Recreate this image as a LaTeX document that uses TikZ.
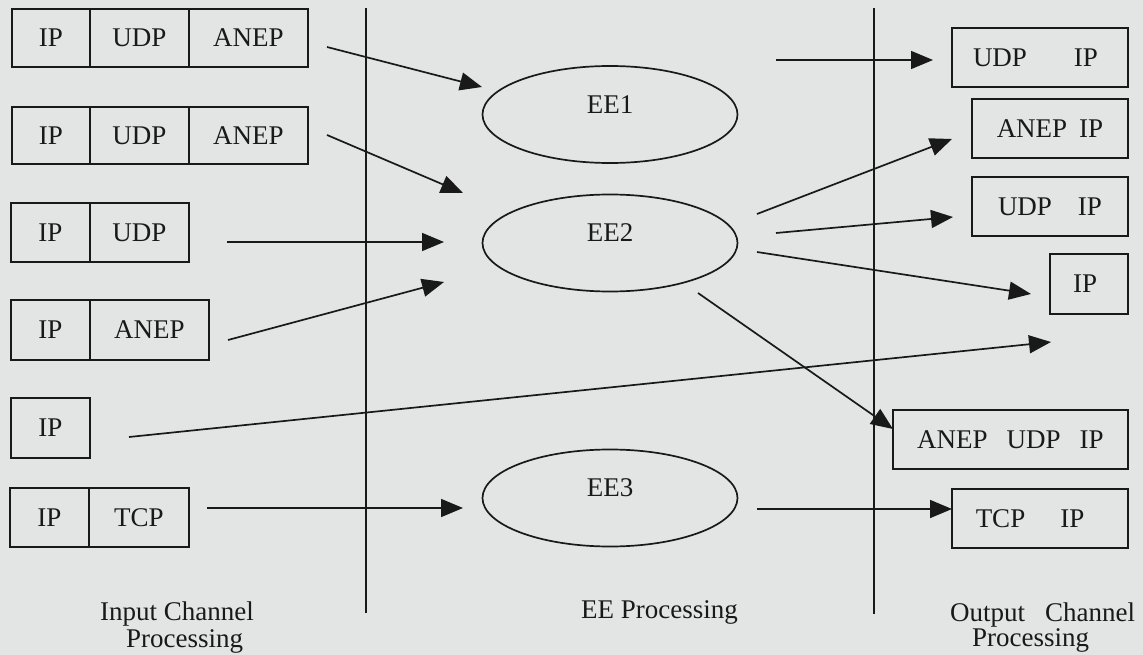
\documentclass[tikz,border=0pt]{standalone}
\usepackage{fontspec}
\setmainfont{Liberation Serif}
\usetikzlibrary{arrows.meta,shapes.geometric}
\definecolor{paper}{RGB}{227,229,229}
\definecolor{ink}{RGB}{25,25,25}

\begin{document}
\begin{tikzpicture}[x=1pt,y=-1pt,
  every node/.style={font=\fontsize{27}{25}\selectfont, text=ink},
  cell/.style={draw=ink, line width=1.7pt, rectangle, inner sep=0pt},
  ee/.style={draw=ink, line width=1.7pt, ellipse, minimum width=255pt, minimum height=97pt, inner sep=0pt},
  flow/.style={draw=ink, line width=1.7pt, -{Triangle[length=22pt,width=18pt]}},
  divider/.style={draw=ink, line width=1.7pt},
  caption/.style={inner sep=0pt, align=left},
]
\fill[paper] (0,0) rectangle (1143,655);
\useasboundingbox (0,0) rectangle (1143,655);

% column dividers
\coordinate (v1t) at (366,8);
\coordinate (v1b) at (366,613);
\coordinate (v2t) at (874,8);
\coordinate (v2b) at (874,614);
\draw[divider] (v1t) -- (v1b);
\draw[divider] (v2t) -- (v2b);

% input packets
\node[cell, minimum width=78pt,  minimum height=58pt] (i1a) at (51,38)    {IP};
\node[cell, minimum width=99pt,  minimum height=58pt] (i1b) at (139.5,38) {UDP};
\node[cell, minimum width=119pt, minimum height=58pt] (i1c) at (248.5,38) {ANEP};

\node[cell, minimum width=78pt,  minimum height=57pt] (i2a) at (51,135.5)    {IP};
\node[cell, minimum width=99pt,  minimum height=57pt] (i2b) at (139.5,135.5) {UDP};
\node[cell, minimum width=119pt, minimum height=57pt] (i2c) at (248.5,135.5) {ANEP};

\node[cell, minimum width=79pt, minimum height=59pt] (i3a) at (50.5,232.5)  {IP};
\node[cell, minimum width=99pt, minimum height=59pt] (i3b) at (139.5,232.5) {UDP};

\node[cell, minimum width=79pt,  minimum height=60pt] (i4a) at (50.5,330)  {IP};
\node[cell, minimum width=119pt, minimum height=60pt] (i4b) at (149.5,330) {ANEP};

\node[cell, minimum width=79pt, minimum height=60pt] (i5a) at (50.5,428) {IP};

\node[cell, minimum width=79pt,  minimum height=59pt] (i6a) at (49.5,517.5) {IP};
\node[cell, minimum width=100pt, minimum height=59pt] (i6b) at (139,517.5)  {TCP};

% execution environments
\node[ee, label={[yshift=10pt]center:EE1}] (ee1) at (610,114.5) {};
\node[ee, label={[yshift=10pt]center:EE2}] (ee2) at (610,243) {};
\node[ee, label={[yshift=10pt]center:EE3}] (ee3) at (610,498) {};

% output packets
\node[cell, minimum width=176pt, minimum height=59pt] (o1) at (1040,57.5)   {UDP\hspace{47pt}IP\hspace*{9pt}};
\node[cell, minimum width=156pt, minimum height=59pt] (o2) at (1050,128.5)  {ANEP\hspace{12pt}IP};
\node[cell, minimum width=156pt, minimum height=59pt] (o3) at (1050,206.5)  {UDP\hspace{26pt}IP};
\node[cell, minimum width=78pt,  minimum height=60pt] (o4) at (1089,284)    {IP\hspace*{8pt}};
\node[cell, minimum width=235pt, minimum height=59pt] (o5) at (1010.5,439.5) {ANEP\hspace{19pt}UDP\hspace{19pt}IP};
\node[cell, minimum width=176pt, minimum height=59pt] (o6) at (1040,518.5)  {TCP\hspace{35pt}IP\hspace*{20pt}};

% flow end points
\coordinate (a1s) at (327,47);   \coordinate (a1e) at (482,87);
\coordinate (a2s) at (327,135);  \coordinate (a2e) at (463,193);
\coordinate (a3s) at (227,242);  \coordinate (a3e) at (444,242);
\coordinate (a4s) at (228,340);  \coordinate (a4e) at (444,282);
\coordinate (a5s) at (129,437);  \coordinate (a5e) at (1051,342);
\coordinate (a6s) at (207,508);  \coordinate (a6e) at (463,508);
\coordinate (b1s) at (776,60);   \coordinate (b1e) at (933,60);
\coordinate (b2s) at (757,214);  \coordinate (b2e) at (952,139);
\coordinate (b3s) at (776,233);  \coordinate (b3e) at (953,217);
\coordinate (b4s) at (757,252);  \coordinate (b4e) at (1031,294);
\coordinate (b5s) at (698,293);  \coordinate (b5e) at (893,429);
\coordinate (b6s) at (757,509);  \coordinate (b6e) at (952,509);

% flows into the execution environments
\draw[flow] (a1s) -- (a1e);
\draw[flow] (a2s) -- (a2e);
\draw[flow] (a3s) -- (a3e);
\draw[flow] (a4s) -- (a4e);
\draw[flow] (a5s) -- (a5e);
\draw[flow] (a6s) -- (a6e);

% flows out to the output channels
\draw[flow] (b1s) -- (b1e);
\draw[flow] (b2s) -- (b2e);
\draw[flow] (b3s) -- (b3e);
\draw[flow] (b4s) -- (b4e);
\draw[flow] (b5s) -- (b5e);
\draw[flow] (b6s) -- (b6e);

% column captions
\node[caption, anchor=north west] (capin) at (100,602) {Input Channel\\[2pt]\hspace*{26pt}Processing};
\node[caption, anchor=base west] (capee) at (581,618) {EE Processing};
\node[caption, anchor=north west] (capout) at (950,603) {Output\hspace{20pt}Channel\\\hspace*{22pt}Processing};
\end{tikzpicture}
\end{document}
